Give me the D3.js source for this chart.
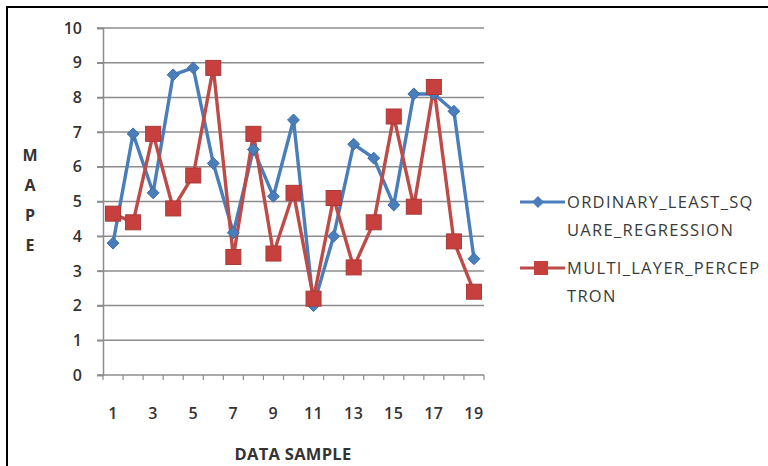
<!DOCTYPE html>
<html><head><meta charset="utf-8">
<script src="https://cdn.jsdelivr.net/npm/d3@7"></script>
<style>body{margin:0;background:#fff;overflow:hidden}svg{display:block}</style>
</head><body>
<svg id="c" width="768" height="466"></svg>
<script>
const categories = d3.range(1, 20);
const olsValues = [3.8, 6.95, 5.25, 8.65, 8.85, 6.1, 4.1, 6.5, 5.15, 7.35, 2.0, 4.0, 6.65, 6.25, 4.9, 8.1, 8.1, 7.6, 3.35];
const mlpValues = [4.65, 4.4, 6.95, 4.8, 5.75, 8.85, 3.4, 6.95, 3.5, 5.25, 2.2, 5.1, 3.1, 4.4, 7.45, 4.85, 8.3, 3.85, 2.4];
const yTicks = d3.range(0, 11);
const xTickLabels = [1, 3, 5, 7, 9, 11, 13, 15, 17, 19];
const seriesNames = ["ORDINARY_LEAST_SQ\nUARE_REGRESSION", "MULTI_LAYER_PERCEP\nTRON"];

const svg = d3.select("#c");
const font = "'Open Sans', 'DejaVu Sans', sans-serif";
svg.append("rect").attr("x", 7).attr("y", 7).attr("width", 780).attr("height", 480)
  .attr("fill", "#fff").attr("stroke", "#000").attr("stroke-width", 2);

const L = 103, R = 484, T = 28, B = 375;
const x = d3.scaleBand().domain(categories).range([L, R]);
const y = d3.scaleLinear().domain([0, 10]).range([B, T]);

// gridlines
svg.append("g").selectAll("line").data(yTicks.filter(d => d > 0)).join("line")
  .attr("x1", L - 6).attr("x2", R).attr("y1", d => y(d)).attr("y2", d => y(d))
  .attr("stroke", "#8c8c8c").attr("stroke-width", 1.5);

const ya = svg.append("g").attr("transform", `translate(${L},0)`)
  .call(d3.axisLeft(y).tickValues(yTicks).tickSize(6).tickPadding(15).tickFormat(d3.format("d")));
ya.select(".domain").attr("stroke", "#8c8c8c").attr("stroke-width", 1.5);
ya.selectAll(".tick line").attr("stroke", "#8c8c8c").attr("stroke-width", 1.5);
ya.selectAll("text").attr("font-family", font).attr("font-size", 16).attr("font-weight", 600).attr("fill", "#333");

// x axis: ticks at band edges
const xa = svg.append("g").attr("transform", `translate(0,${B})`);
xa.append("line").attr("x1", L - 6).attr("x2", R).attr("y1", 0).attr("y2", 0)
  .attr("stroke", "#8c8c8c").attr("stroke-width", 1.5);
xa.selectAll("line.t").data(categories.concat([20])).join("line").attr("class", "t")
  .attr("x1", d => d === 20 ? R : x(d)).attr("x2", d => d === 20 ? R : x(d))
  .attr("y1", 0).attr("y2", 5).attr("stroke", "#8c8c8c").attr("stroke-width", 1.2);
xa.selectAll("text").data(xTickLabels).join("text")
  .attr("x", d => x(d) + x.bandwidth() / 2).attr("y", 44)
  .attr("text-anchor", "middle").attr("font-family", font).attr("font-size", 16)
  .attr("font-weight", 600).attr("fill", "#333").attr("letter-spacing", 0.5).text(d => d);

svg.append("text").attr("x", 293).attr("y", 460).attr("text-anchor", "middle")
  .attr("font-family", font).attr("font-size", 16.5).attr("font-weight", 700).attr("fill", "#333")
  .attr("letter-spacing", 0.3).text("DATA SAMPLE");
svg.append("g").selectAll("text").data("MAPE".split("")).join("text")
  .attr("x", 30).attr("y", (d, i) => 161 + i * 30).attr("text-anchor", "middle")
  .attr("font-family", font).attr("font-size", 16).attr("font-weight", 700).attr("fill", "#333")
  .text(d => d);

const cx = (d, i) => x(categories[i]) + x.bandwidth() / 2;
const line = d3.line().x(cx).y(d => y(d));
const blue = "#4a7ebb", red = "#be4b48";

svg.append("path").datum(olsValues).attr("d", line).attr("fill", "none")
  .attr("stroke", blue).attr("stroke-width", 3.4).attr("stroke-linejoin", "round");
svg.append("path").datum(mlpValues).attr("d", line).attr("fill", "none")
  .attr("stroke", red).attr("stroke-width", 3.4).attr("stroke-linejoin", "round");

const diamond = d3.symbol().type(d3.symbolDiamond2).size(90);
svg.append("g").selectAll("path").data(olsValues).join("path")
  .attr("d", diamond).attr("transform", (d, i) => `translate(${cx(d, i)},${y(d)})`)
  .attr("fill", blue).attr("stroke", "#3c6ca8").attr("stroke-width", 1);
svg.append("g").selectAll("rect").data(mlpValues).join("rect")
  .attr("x", (d, i) => cx(d, i) - 7.5).attr("y", d => y(d) - 7.5).attr("width", 15).attr("height", 15)
  .attr("fill", "#c8403d").attr("stroke", "#a83a38").attr("stroke-width", 1);

// legend
const leg = svg.append("g");
[[blue, 202], [red, 268]].forEach(([c, ly], i) => {
  leg.append("line").attr("x1", 520).attr("x2", 565).attr("y1", ly).attr("y2", ly)
    .attr("stroke", c).attr("stroke-width", 3);
  if (i === 0) leg.append("path").attr("d", diamond).attr("transform", `translate(538,${ly})`).attr("fill", blue);
  else leg.append("rect").attr("x", 534).attr("y", ly - 7).attr("width", 14).attr("height", 14).attr("fill", "#c8403d");
  const lines = seriesNames[i].split("\n");
  lines.forEach((t, j) => leg.append("text").attr("x", 567).attr("y", ly + 6 + j * 28)
    .attr("font-family", font).attr("font-size", 16.5).attr("letter-spacing", 1.3)
    .attr("fill", "#3a3a3a").text(t));
});
</script>
</body></html>
